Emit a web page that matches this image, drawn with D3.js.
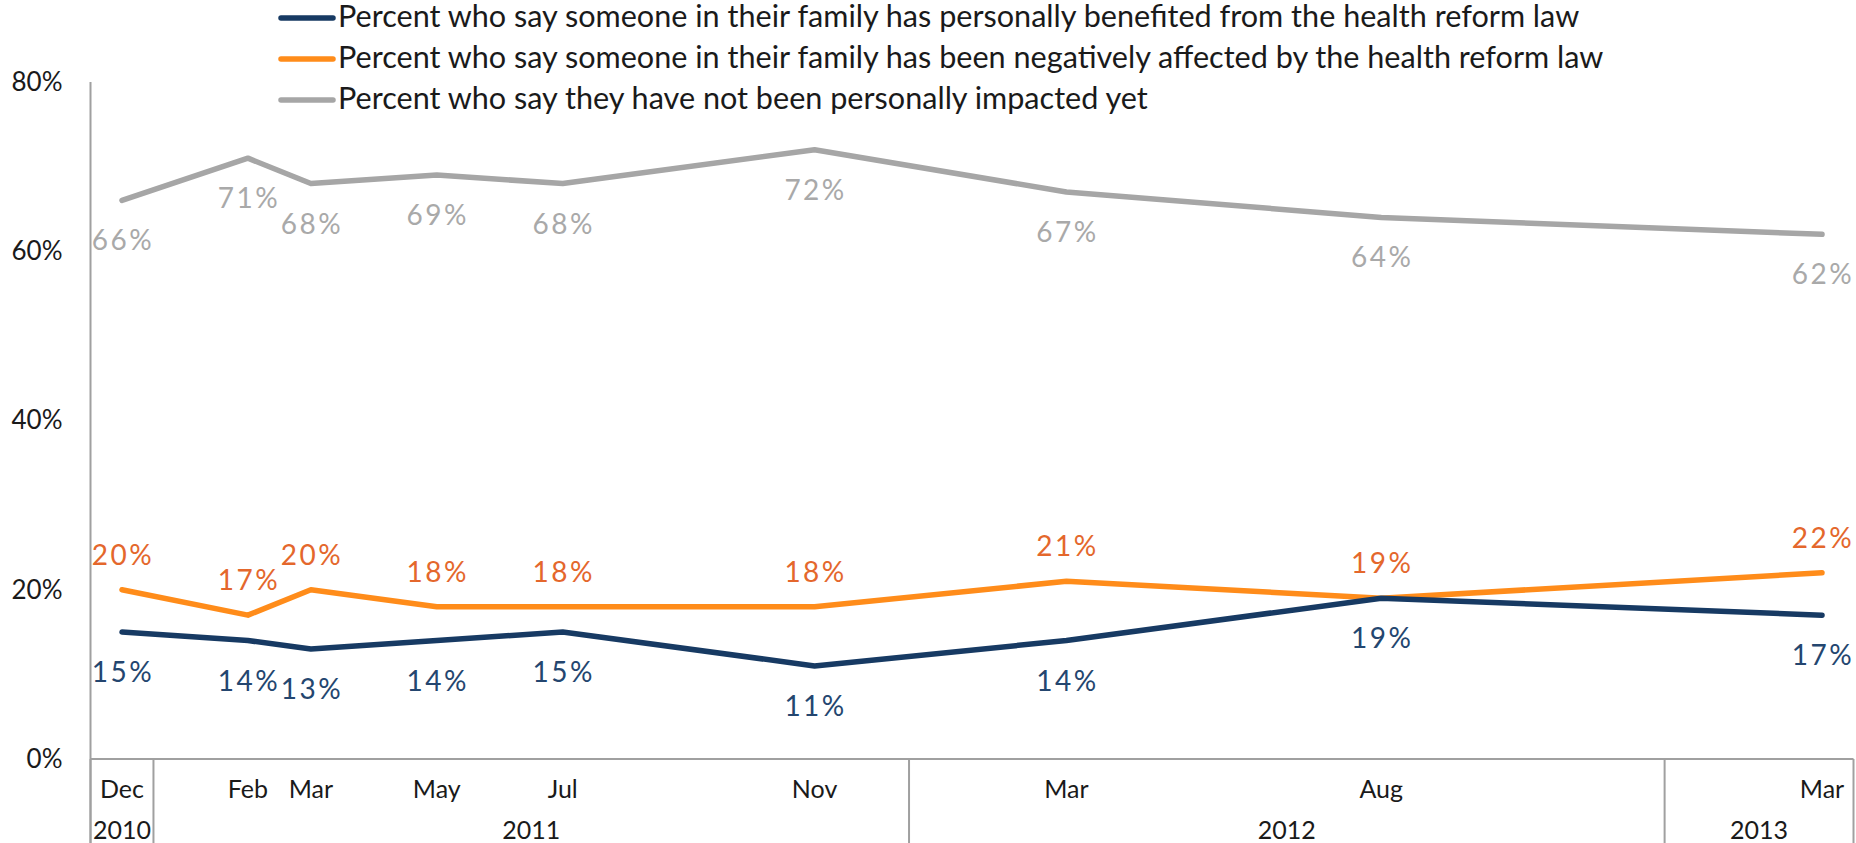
<!DOCTYPE html>
<html>
  <head>
    <meta charset="UTF-8">
    <title>Health reform law impact</title>
    <script src="https://cdnjs.cloudflare.com/ajax/libs/d3/7.8.5/d3.min.js"></script>
    <style>
      body, html {
        margin:0; padding:0; background:#fff;
      }
      text { font-family: Lato, "Open Sans", sans-serif; }
      .axisline { stroke: #a0a0a0; stroke-width: 2; fill: none; }
      .serie { fill: none; stroke-width: 5.5; stroke-linejoin: round; stroke-linecap: round; }
      .val { font-size: 28px; letter-spacing: 2.5px; }
    </style>
  </head>
  <body>

  <div id="chart"></div>

<script type="text/javascript">

  // survey months
  var dates       = ["2010-12", "2011-02", "2011-03", "2011-05", "2011-07", "2011-11", "2012-03", "2012-08", "2013-03"];
  var monthLabels = ["Dec", "Feb", "Mar", "May", "Jul", "Nov", "Mar", "Aug", "Mar"];

  // values in percent
  var benefited   = [15, 14, 13, 14, 15, 11, 14, 19, 17];
  var negative    = [20, 17, 20, 18, 18, 18, 21, 19, 22];
  var notImpacted = [66, 71, 68, 69, 68, 72, 67, 64, 62];

  var yTicks = [0, 20, 40, 60, 80];

  // year groups under the month row
  var yearLabels = ["2010", "2011", "2012", "2013"];
  var yearFirst  = ["2010-12", "2011-01", "2012-01", "2013-01"];
  var yearLast   = ["2010-12", "2011-12", "2012-12", "2013-03"];

  var seriesNames = [
    "Percent who say someone in their family has personally benefited from the health reform law",
    "Percent who say someone in their family has been negatively affected by the health reform law",
    "Percent who say they have not been personally impacted yet"
  ];
  var seriesValues = [benefited, negative, notImpacted];
  var lineColors   = ["#173a63", "#ff8c1a", "#a6a6a6"];
  var labelColors  = ["#24466f", "#e4672c", "#a9a9a9"];
  var labelSide    = [1, -1, 1];   // 1 = below the point, -1 = above

  var W = 1856, H = 843;
  // (don't call it "top", that is window.top)
  var plotLeft = 90.5, plotRight = 1853.5, plotTop = 82, plotBottom = 759;

  function monthIdx(s) {
    var p = s.split('-');
    return (+p[0]) * 12 + (+p[1]) - 1;
  }

  var x = d3.scaleLinear()
      .domain([monthIdx(dates[0]) - 0.5, monthIdx(dates[dates.length-1]) + 0.5])
      .range([plotLeft, plotRight]);
  var y = d3.scaleLinear().domain([0, 80]).range([plotBottom, plotTop]);

  var svg = d3.select('#chart').append('svg')
      .attr('width', W).attr('height', H);

  // y axis labels (no tick marks in the original)
  var yAxis = d3.axisLeft(y).tickValues(yTicks).tickSize(0).tickPadding(28)
      .tickFormat(function(d){ return d + "%"; });
  var ya = svg.append('g').attr('transform', 'translate(' + plotLeft + ',0)').call(yAxis);
  ya.select('.domain').remove();
  ya.selectAll('text').style('font-size', '26px').attr('fill', '#1a1a1a')
    .style('font-family', 'Lato, sans-serif');

  // left axis line runs down through the category rows
  svg.append('line').attr('class', 'axisline')
     .attr('x1', plotLeft).attr('x2', plotLeft).attr('y1', plotTop).attr('y2', H);
  // baseline
  svg.append('line').attr('class', 'axisline')
     .attr('x1', plotLeft).attr('x2', plotRight).attr('y1', plotBottom).attr('y2', plotBottom);

  // year separators
  var seps = [];
  yearFirst.forEach(function(d){ seps.push(x(monthIdx(d) - 0.5)); });
  seps.push(x(monthIdx(yearLast[yearLast.length-1]) + 0.5));
  svg.selectAll('.sep').data(seps).enter().append('line')
     .attr('class', 'axisline sep')
     .attr('x1', function(d){ return d; }).attr('x2', function(d){ return d; })
     .attr('y1', plotBottom).attr('y2', H);

  // month row
  svg.selectAll('.month').data(dates).enter().append('text')
     .attr('class', 'month')
     .attr('x', function(d){ return x(monthIdx(d)); })
     .attr('y', 788)
     .attr('text-anchor', 'middle').attr('dominant-baseline', 'central')
     .attr('fill', '#1a1a1a').style('font-size', '25px')
     .text(function(d, i){ return monthLabels[i]; });

  // year row
  svg.selectAll('.year').data(yearLabels).enter().append('text')
     .attr('class', 'year')
     .attr('x', function(d, i){ return (x(monthIdx(yearFirst[i]) - 0.5) + x(monthIdx(yearLast[i]) + 0.5)) / 2; })
     .attr('y', 829)
     .attr('text-anchor', 'middle').attr('dominant-baseline', 'central')
     .attr('fill', '#1a1a1a').style('font-size', '25px')
     .text(function(d){ return d; });

  var line = d3.line()
      .x(function(d, i){ return x(monthIdx(dates[i])); })
      .y(function(d){ return y(d); });

  // draw grey first so the other two sit on top
  [2, 1, 0].forEach(function(s) {
    svg.append('path').attr('class', 'serie')
       .attr('d', line(seriesValues[s]))
       .attr('stroke', lineColors[s]);
  });

  seriesValues.forEach(function(vals, s) {
    svg.selectAll('.val_' + s).data(vals).enter().append('text')
       .attr('class', 'val val_' + s)
       .attr('x', function(d, i){ return x(monthIdx(dates[i])) + 1; })
       .attr('y', function(d){ return y(d) + (labelSide[s] > 0 ? 39 : -36); })
       .attr('text-anchor', 'middle').attr('dominant-baseline', 'central')
       .attr('fill', labelColors[s])
       .text(function(d){ return d + "%"; });
  });

  // legend
  var legendY = [27, 68, 109];
  var lg = svg.selectAll('.legend').data(seriesNames).enter().append('g')
      .attr('class', 'legend')
      .attr('transform', function(d, i){ return 'translate(279,' + legendY[i] + ')'; });
  lg.append('line')
    .attr('x1', 2).attr('x2', 54).attr('y1', -9).attr('y2', -9)
    .attr('stroke', function(d, i){ return lineColors[i]; })
    .attr('stroke-width', 5.5).attr('stroke-linecap', 'round');
  lg.append('text')
    .attr('x', 59).attr('y', 0)
    .attr('fill', '#1a1a1a').style('font-size', '30.6px')
    .text(function(d){ return d; });

</script>
  </body>
</html>
